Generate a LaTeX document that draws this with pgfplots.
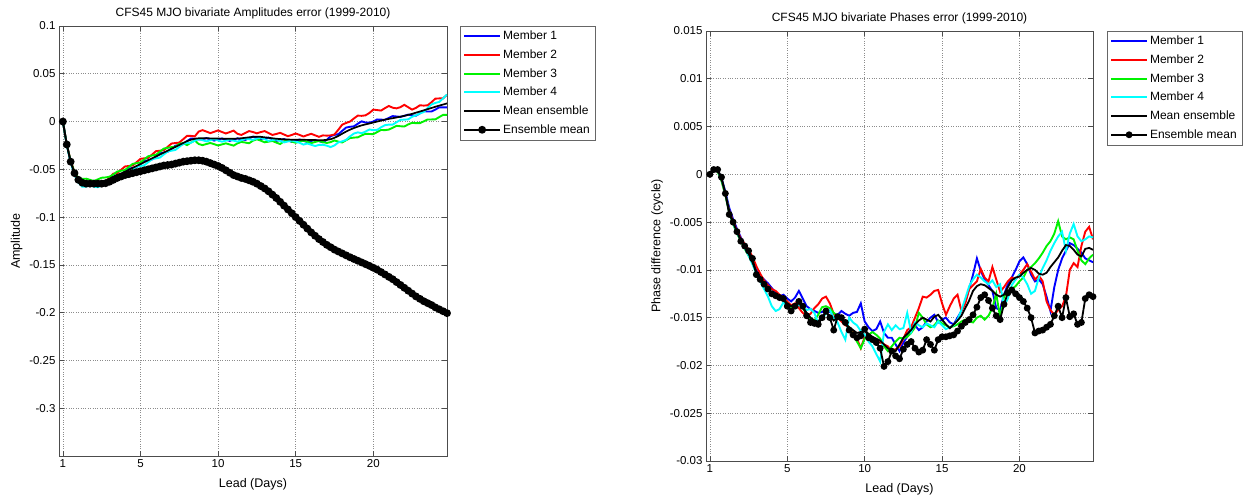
\documentclass[border=0pt]{standalone}
\usepackage{fontspec}
\setmainfont{Liberation Sans}
\usepackage{pgfplots}
\usepackage{pgfplotstable}
\pgfplotsset{compat=1.18}
\definecolor{mblue}{rgb}{0,0,1}
\definecolor{mred}{rgb}{1,0,0}
\definecolor{mgreen}{rgb}{0,0.95,0}
\definecolor{mcyan}{rgb}{0,1,1}

\pgfplotstableread{
x m1 m2 m3 m4 me em
0 0 0 0 0 0 0
0.25 -0.024 -0.0235 -0.024 -0.0245 -0.024 -0.024
0.5 -0.042 -0.041 -0.0415 -0.043 -0.042 -0.042
0.75 -0.054 -0.053 -0.053 -0.056 -0.054 -0.054
1 -0.0615 -0.060 -0.059 -0.064 -0.061 -0.061
1.25 -0.0628 -0.064 -0.060 -0.0682 -0.064 -0.064
1.5 -0.065 -0.0665 -0.0598 -0.068 -0.065 -0.065
1.75 -0.0662 -0.065 -0.061 -0.0668 -0.065 -0.065
2 -0.065 -0.0635 -0.0622 -0.068 -0.065 -0.065
2.25 -0.0633 -0.0645 -0.0605 -0.0687 -0.0645 -0.065
2.5 -0.064 -0.0655 -0.0588 -0.067 -0.064 -0.065
2.75 -0.0637 -0.0625 -0.0585 -0.0643 -0.0625 -0.0645
3 -0.0605 -0.059 -0.0577 -0.0635 -0.0605 -0.063
3.25 -0.0573 -0.0545 -0.0555 -0.0617 -0.0585 -0.061
3.5 -0.0565 -0.054 -0.0523 -0.0585 -0.0565 -0.059
3.75 -0.0557 -0.0505 -0.0515 -0.0553 -0.0545 -0.0575
4 -0.0525 -0.047 -0.0507 -0.0545 -0.0525 -0.056
4.25 -0.0493 -0.0465 -0.0475 -0.0537 -0.0505 -0.055
4.5 -0.0485 -0.046 -0.0443 -0.0505 -0.0485 -0.054
4.75 -0.0477 -0.0425 -0.0435 -0.0473 -0.0465 -0.053
5 -0.0445 -0.039 -0.0427 -0.0465 -0.0445 -0.052
5.25 -0.0413 -0.0385 -0.0395 -0.0457 -0.0425 -0.051
5.5 -0.0405 -0.038 -0.0363 -0.0425 -0.0405 -0.050
5.75 -0.0397 -0.0345 -0.0355 -0.0393 -0.0385 -0.049
6 -0.0365 -0.031 -0.0347 -0.0385 -0.0365 -0.048
6.25 -0.0333 -0.0305 -0.0315 -0.0377 -0.0345 -0.047
6.5 -0.0325 -0.030 -0.0283 -0.0345 -0.0325 -0.046
6.75 -0.0317 -0.0265 -0.0275 -0.0313 -0.0305 -0.0455
7 -0.0285 -0.023 -0.0267 -0.0305 -0.0285 -0.045
7.25 -0.0253 -0.0225 -0.0265 -0.0297 -0.0265 -0.044
7.5 -0.0245 -0.022 -0.0233 -0.0265 -0.0245 -0.043
7.75 -0.0237 -0.0185 -0.0225 -0.0233 -0.0225 -0.042
8 -0.0205 -0.015 -0.0247 -0.0225 -0.0205 -0.0415
8.25 -0.0178 -0.015 -0.022 -0.0222 -0.019 -0.041
8.5 -0.018 -0.0155 -0.0198 -0.020 -0.018 -0.0405
8.75 -0.0187 -0.0105 -0.0235 -0.0183 -0.0175 -0.0405
9 -0.0185 -0.009 -0.0247 -0.0195 -0.0175 -0.041
9.25 -0.0173 -0.0105 -0.0235 -0.0207 -0.0175 -0.042
9.5 -0.0186 -0.0121 -0.0224 -0.0196 -0.0176 -0.0435
9.75 -0.0199 -0.0107 -0.0237 -0.0185 -0.0177 -0.045
10 -0.0188 -0.0093 -0.025 -0.0198 -0.0178 -0.0465
10.25 -0.0177 -0.0109 -0.0239 -0.0211 -0.0179 -0.0485
10.5 -0.019 -0.0125 -0.0228 -0.020 -0.018 -0.051
10.75 -0.0202 -0.011 -0.024 -0.0188 -0.018 -0.0535
11 -0.019 -0.0095 -0.0252 -0.020 -0.018 -0.056
11.25 -0.0176 -0.0128 -0.0228 -0.021 -0.0178 -0.0575
11.5 -0.0185 -0.014 -0.0213 -0.0195 -0.0175 -0.059
11.75 -0.0192 -0.012 -0.022 -0.0178 -0.017 -0.060
12 -0.0175 -0.010 -0.0227 -0.0185 -0.0165 -0.0615
12.25 -0.0158 -0.011 -0.020 -0.0192 -0.016 -0.063
12.5 -0.0168 -0.0123 -0.0186 -0.0178 -0.0158 -0.065
12.75 -0.0182 -0.011 -0.020 -0.0168 -0.016 -0.0675
13 -0.0175 -0.010 -0.0217 -0.0185 -0.0165 -0.070
13.25 -0.0168 -0.012 -0.021 -0.0202 -0.017 -0.073
13.5 -0.0185 -0.014 -0.0203 -0.0195 -0.0175 -0.0765
13.75 -0.0202 -0.013 -0.022 -0.0188 -0.018 -0.080
14 -0.0193 -0.0118 -0.0235 -0.0203 -0.0183 -0.084
14.25 -0.0184 -0.0136 -0.0206 -0.0218 -0.0186 -0.088
14.5 -0.0198 -0.0153 -0.0196 -0.0208 -0.0188 -0.092
14.75 -0.0212 -0.014 -0.021 -0.0198 -0.019 -0.096
15 -0.020 -0.0125 -0.0222 -0.021 -0.019 -0.100
15.25 -0.0188 -0.014 -0.021 -0.0222 -0.019 -0.104
15.5 -0.0201 -0.0156 -0.0199 -0.0241 -0.0191 -0.108
15.75 -0.0214 -0.0142 -0.0212 -0.023 -0.0192 -0.112
16 -0.0203 -0.0128 -0.0225 -0.0243 -0.0193 -0.116
16.25 -0.0192 -0.0144 -0.0214 -0.0256 -0.0194 -0.1195
16.5 -0.0205 -0.016 -0.0203 -0.0245 -0.0195 -0.123
16.75 -0.0217 -0.0145 -0.0215 -0.0243 -0.0195 -0.126
17 -0.0192 -0.0147 -0.0224 -0.0252 -0.0192 -0.129
17.25 -0.0153 -0.0145 -0.0215 -0.0267 -0.0185 -0.1315
17.5 -0.014 -0.0135 -0.0198 -0.025 -0.017 -0.134
17.75 -0.0132 -0.0085 -0.021 -0.0218 -0.015 -0.136
18 -0.0097 -0.0032 -0.0219 -0.0207 -0.0127 -0.138
18.25 -0.0063 -0.0015 -0.0195 -0.0192 -0.0105 -0.140
18.5 -0.0055 0.000 -0.0173 -0.0155 -0.0085 -0.142
18.75 -0.005 0.0032 -0.0168 -0.0126 -0.0068 -0.1438
19 -0.0023 0.0062 -0.0165 -0.0113 -0.0053 -0.1456
19.25 0.0002 0.006 -0.0145 -0.0122 -0.004 -0.1474
19.5 -0.001 0.0065 -0.0128 -0.0105 -0.003 -0.1492
19.75 -0.0012 0.009 -0.013 -0.0083 -0.002 -0.151
20 0.000 0.0125 -0.0132 -0.009 -0.001 -0.153
20.25 0.0022 0.012 -0.011 -0.0087 0.000 -0.155
20.5 0.002 0.0115 -0.0088 -0.006 0.001 -0.1575
20.75 0.0018 0.014 -0.009 -0.0038 0.002 -0.160
21 0.0038 0.0163 -0.0084 -0.0032 0.0028 -0.1625
21.25 0.0057 0.0145 -0.0065 -0.0032 0.0035 -0.165
21.5 0.0053 0.0138 -0.0045 -0.0007 0.0043 -0.168
21.75 0.0049 0.0151 -0.0049 0.0018 0.0051 -0.171
22 0.006 0.0175 -0.0052 0.002 0.006 -0.174
22.25 0.0072 0.015 -0.003 0.0023 0.007 -0.177
22.5 0.0065 0.0125 -0.0013 0.005 0.008 -0.180
22.75 0.0061 0.0143 -0.0017 0.0065 0.0093 -0.183
23 0.0085 0.017 -0.0017 0.0085 0.0105 -0.1855
23.25 0.0109 0.0167 0.0002 0.010 0.0117 -0.188
23.5 0.0105 0.017 0.0022 0.014 0.013 -0.190
23.75 0.0105 0.0202 0.0022 0.0179 0.0142 -0.192
24 0.0125 0.024 0.0023 0.0195 0.0155 -0.1945
24.25 0.0149 0.0242 0.0047 0.0205 0.0167 -0.1965
24.5 0.0148 0.0243 0.007 0.0243 0.0178 -0.1985
24.75 0.0148 0.028 0.007 0.0282 0.019 -0.2005
}\ampdata

\pgfplotstableread{
x m1 m2 m3 m4 me em
0 0 0 0 0 0 0
0.25 0.0005 0.0005 0.0004 0.0005 0.0005 0.0005
0.5 0.0004 0.0004 0.0003 0.0004 0.0004 0.0005
0.75 -0.0004 -0.0006 -0.0007 -0.0005 -0.0005 -0.0003
1 -0.0018 -0.0021 -0.0022 -0.0020 -0.002 -0.002
1.25 -0.0035 -0.0038 -0.0040 -0.0039 -0.0038 -0.0042
1.5 -0.0047 -0.0049 -0.0052 -0.0051 -0.005 -0.005
1.75 -0.0057 -0.0059 -0.0062 -0.0061 -0.006 -0.006
2 -0.0066 -0.0067 -0.0070 -0.0069 -0.0068 -0.007
2.25 -0.0074 -0.0073 -0.0078 -0.0077 -0.0076 -0.0075
2.5 -0.0082 -0.0079 -0.0085 -0.0085 -0.0083 -0.008
2.75 -0.0091 -0.0086 -0.0093 -0.0094 -0.0092 -0.0088
3 -0.0100 -0.0096 -0.0103 -0.0104 -0.0102 -0.0105
3.25 -0.0106 -0.0104 -0.0110 -0.0112 -0.0108 -0.011
3.5 -0.0110 -0.0111 -0.0116 -0.0120 -0.0114 -0.0115
3.75 -0.0114 -0.0116 -0.0120 -0.0128 -0.0119 -0.012
4 -0.0119 -0.0120 -0.0124 -0.0138 -0.0124 -0.0125
4.25 -0.0124 -0.0122 -0.0127 -0.0143 -0.0127 -0.0127
4.5 -0.0128 -0.0126 -0.0130 -0.0141 -0.0129 -0.0129
4.75 -0.0126 -0.0129 -0.0132 -0.0134 -0.0131 -0.013
5 -0.0130 -0.0133 -0.0135 -0.0138 -0.0135 -0.0138
5.25 -0.0133 -0.0137 -0.0139 -0.0142 -0.0138 -0.0143
5.5 -0.0129 -0.0135 -0.0137 -0.0140 -0.0136 -0.0138
5.75 -0.0122 -0.0140 -0.0134 -0.0136 -0.0134 -0.0133
6 -0.0130 -0.0145 -0.0140 -0.0138 -0.0139 -0.0138
6.25 -0.0138 -0.0148 -0.0146 -0.0142 -0.0145 -0.0148
6.5 -0.0141 -0.0146 -0.0151 -0.0141 -0.015 -0.0155
6.75 -0.0143 -0.0140 -0.0153 -0.0145 -0.0153 -0.0156
7 -0.0145 -0.0136 -0.0147 -0.0156 -0.0154 -0.0157
7.25 -0.0144 -0.0130 -0.0139 -0.0150 -0.0149 -0.015
7.5 -0.0142 -0.0128 -0.0138 -0.0146 -0.0145 -0.0143
7.75 -0.0144 -0.0135 -0.0140 -0.0142 -0.0148 -0.015
8 -0.0146 -0.0146 -0.0145 -0.0150 -0.0153 -0.0163
8.25 -0.0147 -0.0150 -0.0148 -0.0155 -0.015 -0.0149
8.5 -0.0143 -0.0154 -0.0152 -0.0165 -0.0152 -0.015
8.75 -0.0146 -0.0158 -0.0156 -0.0173 -0.0156 -0.0155
9 -0.0148 -0.0160 -0.0160 -0.0150 -0.016 -0.0163
9.25 -0.0145 -0.0165 -0.0168 -0.0155 -0.0163 -0.0168
9.5 -0.0144 -0.0172 -0.0175 -0.0158 -0.0166 -0.0171
9.75 -0.0135 -0.0182 -0.0182 -0.0164 -0.0165 -0.0169
10 -0.0154 -0.0170 -0.0172 -0.0168 -0.0163 -0.0162
10.25 -0.0160 -0.0168 -0.0168 -0.0175 -0.0167 -0.0171
10.5 -0.0164 -0.0172 -0.0165 -0.0180 -0.017 -0.0173
10.75 -0.0162 -0.0175 -0.0168 -0.0188 -0.0172 -0.0176
11 -0.0154 -0.0176 -0.0172 -0.0196 -0.0174 -0.0182
11.25 -0.0166 -0.0178 -0.0180 -0.0165 -0.0178 -0.0201
11.5 -0.0171 -0.0180 -0.0185 -0.0157 -0.0182 -0.0196
11.75 -0.0171 -0.0185 -0.0180 -0.0163 -0.0184 -0.0185
12 -0.0178 -0.0183 -0.0175 -0.0158 -0.0185 -0.019
12.25 -0.0185 -0.0180 -0.0171 -0.0162 -0.0178 -0.0193
12.5 -0.0176 -0.0172 -0.0172 -0.0161 -0.0171 -0.0183
12.75 -0.0170 -0.0163 -0.0170 -0.0145 -0.0167 -0.0178
13 -0.0160 -0.0160 -0.0166 -0.0165 -0.0163 -0.0175
13.25 -0.0158 -0.0150 -0.0160 -0.0155 -0.0157 -0.0182
13.5 -0.0163 -0.0140 -0.0145 -0.0158 -0.0153 -0.0186
13.75 -0.0160 -0.0128 -0.0150 -0.0160 -0.015 -0.0184
14 -0.0154 -0.0129 -0.0157 -0.0156 -0.0152 -0.0173
14.25 -0.0150 -0.0126 -0.0160 -0.0158 -0.0154 -0.0178
14.5 -0.0147 -0.0122 -0.0158 -0.0160 -0.0149 -0.0184
14.75 -0.0155 -0.0121 -0.0153 -0.0154 -0.0147 -0.0173
15 -0.0152 -0.0135 -0.0156 -0.0158 -0.0152 -0.017
15.25 -0.0150 -0.0147 -0.0158 -0.0162 -0.0157 -0.017
15.5 -0.0155 -0.0138 -0.0160 -0.0160 -0.0161 -0.0169
15.75 -0.0157 -0.0130 -0.0159 -0.0158 -0.0157 -0.0168
16 -0.0150 -0.0126 -0.0157 -0.0152 -0.0153 -0.0164
16.25 -0.0143 -0.0143 -0.0154 -0.0142 -0.0148 -0.0159
16.5 -0.0133 -0.0135 -0.0152 -0.0130 -0.014 -0.0155
16.75 -0.0120 -0.0120 -0.0154 -0.0117 -0.0132 -0.0152
17 -0.0105 -0.0116 -0.0155 -0.0110 -0.0122 -0.0147
17.25 -0.0088 -0.0112 -0.0150 -0.0105 -0.0117 -0.0139
17.5 -0.0101 -0.0099 -0.0148 -0.0108 -0.0115 -0.0129
17.75 -0.0110 -0.0108 -0.0152 -0.0112 -0.0116 -0.0126
18 -0.0116 -0.0112 -0.0148 -0.0115 -0.0119 -0.0132
18.25 -0.0122 -0.0097 -0.0140 -0.0111 -0.0122 -0.014
18.5 -0.0140 -0.0110 -0.0125 -0.0118 -0.0126 -0.0148
18.75 -0.0142 -0.0123 -0.0150 -0.0115 -0.0128 -0.0152
19 -0.0126 -0.0118 -0.0128 -0.0138 -0.0126 -0.0136
19.25 -0.0115 -0.0112 -0.0123 -0.0130 -0.0118 -0.0124
19.5 -0.0108 -0.0108 -0.0120 -0.0116 -0.0111 -0.0121
19.75 -0.0100 -0.0110 -0.0117 -0.0110 -0.0108 -0.0125
20 -0.0091 -0.0105 -0.0112 -0.0105 -0.0107 -0.0129
20.25 -0.0087 -0.0100 -0.0108 -0.0108 -0.0103 -0.0133
20.5 -0.0094 -0.0094 -0.0100 -0.0115 -0.01 -0.014
20.75 -0.0105 -0.0102 -0.0097 -0.0125 -0.0098 -0.015
21 -0.0112 -0.0110 -0.0093 -0.0122 -0.01 -0.0166
21.25 -0.0110 -0.0106 -0.0088 -0.0108 -0.0104 -0.0164
21.5 -0.0115 -0.0112 -0.0082 -0.0098 -0.0105 -0.0163
21.75 -0.0128 -0.0133 -0.0075 -0.0090 -0.0103 -0.016
22 -0.0143 -0.0142 -0.0070 -0.0080 -0.0097 -0.0157
22.25 -0.0118 -0.0147 -0.0062 -0.0072 -0.0092 -0.0148
22.5 -0.0100 -0.0142 -0.0049 -0.0065 -0.0087 -0.0138
22.75 -0.0088 -0.0138 -0.0065 -0.0060 -0.008 -0.015
23 -0.0080 -0.0128 -0.0068 -0.0080 -0.0074 -0.0129
23.25 -0.0072 -0.0100 -0.0066 -0.0062 -0.0075 -0.0149
23.5 -0.0074 -0.0093 -0.0068 -0.0052 -0.0079 -0.0146
23.75 -0.0078 -0.0097 -0.0080 -0.0065 -0.0084 -0.0157
24 -0.0082 -0.0075 -0.0090 -0.0070 -0.0086 -0.0155
24.25 -0.0088 -0.0060 -0.0094 -0.0068 -0.0078 -0.013
24.5 -0.0090 -0.0055 -0.0088 -0.0065 -0.0077 -0.0126
24.75 -0.0092 -0.0068 -0.0084 -0.0066 -0.0079 -0.0128
}\phsdata

\pgfplotsset{
  mjo/.style={
    scale only axis,
    xmin=-0.25, xmax=24.75,
    xtick={0,5,10,15,20}, xticklabels={1,5,10,15,20},
    scaled x ticks=false, scaled y ticks=false,
    grid=major,
    major grid style={dotted, black!45, line width=0.6pt},
    axis line style={black!70, line width=0.7pt},
    tick align=inside, tick pos=both,
    xticklabel pos=left, yticklabel pos=left,
    tick style={black!70, line width=0.6pt},
    major tick length=5pt,
    ticklabel style={font=\fontsize{11.5}{13}\selectfont},
    label style={font=\fontsize{12.5}{14}\selectfont},
    xlabel style={yshift=-4pt},
    title style={font=\fontsize{12}{14}\selectfont, yshift=-3pt},
    legend style={font=\fontsize{12}{14}\selectfont, anchor=north west,
      draw=black!60, fill=white,
      inner xsep=3pt, inner ysep=4pt, row sep=6.5pt,
      nodes={inner ysep=1pt}},
    legend cell align=left,
    legend image code/.code={\draw[mark repeat=2,mark phase=2] plot coordinates {(0pt,0pt) (18pt,0pt) (36pt,0pt)};},
  },
  memb/.style={line width=1.9pt, no marks},
}

\begin{document}
\begin{tikzpicture}
\useasboundingbox (0,0) rectangle (1252pt,498pt);
\begin{axis}[mjo,
  at={(59pt,42pt)}, anchor=south west,
  width=388pt, height=430pt,
  ymin=-0.35, ymax=0.1,
  ytick={-0.3,-0.25,-0.2,-0.15,-0.1,-0.05,0,0.05,0.1},
  yticklabels={-0.3,-0.25,-0.2,-0.15,-0.1,-0.05,0,0.05,0.1},
  title={CFS45 MJO bivariate Amplitudes error (1999-2010)},
  xlabel={Lead (Days)}, ylabel={Amplitude},
  legend style={at={(1.0335,1)}},
]
\addplot[memb, mblue] table[x=x,y=m1]{\ampdata};
\addlegendentry{Member 1}
\addplot[memb, mred] table[x=x,y=m2]{\ampdata};
\addlegendentry{Member 2}
\addplot[memb, mgreen] table[x=x,y=m3]{\ampdata};
\addlegendentry{Member 3}
\addplot[memb, mcyan] table[x=x,y=m4]{\ampdata};
\addlegendentry{Member 4}
\addplot[memb, black, line width=1.7pt] table[x=x,y=me]{\ampdata};
\addlegendentry{Mean ensemble}
\addplot[black, line width=1.8pt, mark=*, mark size=3pt, mark options={solid}] table[x=x,y=em]{\ampdata};
\addlegendentry{Ensemble mean}
\end{axis}

\begin{axis}[mjo,
  at={(706pt,37pt)}, anchor=south west,
  width=387pt, height=430pt,
  ymin=-0.03, ymax=0.015,
  ytick={-0.03,-0.025,-0.02,-0.015,-0.01,-0.005,0,0.005,0.01,0.015},
  yticklabels={-0.03,-0.025,-0.02,-0.015,-0.01,-0.005,0,0.005,0.01,0.015},
  title={CFS45 MJO bivariate Phases error (1999-2010)},
  xlabel={Lead (Days)}, ylabel={Phase difference (cycle)},
  legend style={at={(1.036,1)}},
]
\addplot[memb, mblue] table[x=x,y=m1]{\phsdata};
\addlegendentry{Member 1}
\addplot[memb, mred] table[x=x,y=m2]{\phsdata};
\addlegendentry{Member 2}
\addplot[memb, mgreen] table[x=x,y=m3]{\phsdata};
\addlegendentry{Member 3}
\addplot[memb, mcyan] table[x=x,y=m4]{\phsdata};
\addlegendentry{Member 4}
\addplot[memb, black, line width=1.8pt] table[x=x,y=me]{\phsdata};
\addlegendentry{Mean ensemble}
\addplot[black, line width=1.8pt, mark=*, mark size=2.5pt, mark options={solid}] table[x=x,y=em]{\phsdata};
\addlegendentry{Ensemble mean}
\end{axis}
\end{tikzpicture}
\end{document}
